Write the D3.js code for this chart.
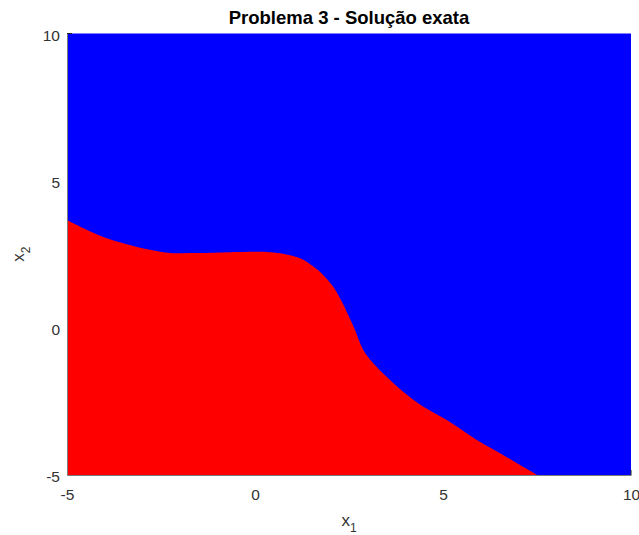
<!DOCTYPE html>
<html>
<head>
<meta charset="utf-8">
<script src="https://cdn.jsdelivr.net/npm/d3@7"></script>
<style>
    body { margin: 0; background: #fff; }
    svg { display: block; font-family: "Liberation Sans", Arial, sans-serif; }
</style>
</head>
<body>
<svg id="chart" width="639" height="535"></svg>
<script>
// boundary between the two regions (x1 -> x2)
let boundaryX = [-5, -3.94, -2.44, -1.5, -0.7, 0.3, 0.67, 1.2, 1.55, 1.82, 2.08, 2.31, 2.48, 2.66, 2.88, 3.15, 3.5, 3.94, 4.48, 5.1, 5.98, 6.52, 7.05, 7.51];
let boundaryY = [3.66, 3.04, 2.57, 2.54, 2.57, 2.58, 2.53, 2.36, 2.08, 1.79, 1.4, 0.89, 0.44, -0.07, -0.75, -1.21, -1.66, -2.17, -2.68, -3.13, -3.87, -4.26, -4.66, -5];
let xTicks = [-5, 0, 5, 10];
let yTicks = [-5, 0, 5, 10];
let xDomain = [-5, 10];
let yDomain = [-5, 10];

let margin = {left: 67, right: 8, top: 33.5, bottom: 60};
let width = 639, height = 535;

let svg = d3.select("#chart");

let x = d3.scaleLinear().domain(xDomain).range([margin.left, width - margin.right]);
let y = d3.scaleLinear().domain(yDomain).range([height - margin.bottom, margin.top]);

let points = boundaryX.map((v, i) => [v, boundaryY[i]]);

// upper region
svg.append("rect")
    .attr("x", x(xDomain[0]))
    .attr("y", y(yDomain[1]))
    .attr("width", x(xDomain[1]) - x(xDomain[0]))
    .attr("height", y(yDomain[0]) - y(yDomain[1]))
    .attr("fill", "#0000ff");

// lower region
let area = d3.area()
    .x(d => x(d[0]))
    .y0(y(yDomain[0]))
    .y1(d => y(d[1]))
    .curve(d3.curveCatmullRom.alpha(0.5));

svg.append("path")
    .datum(points)
    .attr("d", area)
    .attr("fill", "#ff0000");

// axes
let fmt = d => String(d);
let xAxis = d3.axisBottom(x).tickValues(xTicks).tickFormat(fmt).tickSize(0).tickPadding(14);
let yAxis = d3.axisLeft(y).tickValues(yTicks).tickFormat(fmt).tickSize(0).tickPadding(7);

let gx = svg.append("g")
    .attr("transform", "translate(0," + y(yDomain[0]) + ")")
    .call(xAxis);
let gy = svg.append("g")
    .attr("transform", "translate(" + x(xDomain[0]) + ",0)")
    .call(yAxis);

[gx, gy].forEach(g => {
    g.select(".domain").attr("stroke", "#7a7a7a");
    g.selectAll("text")
        .attr("fill", "#333")
        .style("font-size", "15.5px")
        .style("font-family", "'Liberation Sans', Arial, sans-serif");
});
gy.selectAll("text").attr("dy", "0.45em");

// little ticks at the axis ends
svg.append("line")
    .attr("x1", x(xDomain[0])).attr("x2", x(xDomain[0]) + 5)
    .attr("y1", y(yDomain[1])).attr("y2", y(yDomain[1]))
    .attr("stroke", "#262626");
svg.append("line")
    .attr("x1", x(xDomain[1])).attr("x2", x(xDomain[1]))
    .attr("y1", y(yDomain[0])).attr("y2", y(yDomain[0]) - 5)
    .attr("stroke", "#262626");

// title
svg.append("text")
    .attr("x", (x(xDomain[0]) + x(xDomain[1])) / 2)
    .attr("y", 24)
    .attr("text-anchor", "middle")
    .attr("fill", "#000")
    .style("font-size", "18.5px")
    .style("font-weight", "bold")
    .text("Problema 3 - Solução exata");

// axis labels
let xl = svg.append("text")
    .attr("x", (x(xDomain[0]) + x(xDomain[1])) / 2)
    .attr("y", 526)
    .attr("text-anchor", "middle")
    .attr("fill", "#333")
    .style("font-size", "17px");
xl.append("tspan").text("x");
xl.append("tspan").attr("dy", 6).style("font-size", "12px").text("1");

let yl = svg.append("text")
    .attr("transform", "translate(24," + ((y(yDomain[0]) + y(yDomain[1])) / 2) + ") rotate(-90)")
    .attr("text-anchor", "middle")
    .attr("fill", "#333")
    .style("font-size", "17px");
yl.append("tspan").text("x");
yl.append("tspan").attr("dy", 6).style("font-size", "12px").text("2");
</script>
</body>
</html>
